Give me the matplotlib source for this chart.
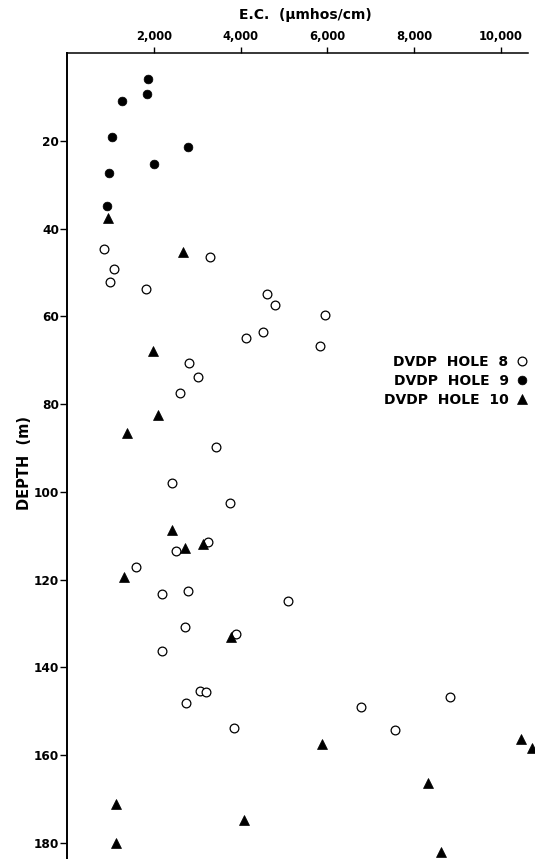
import matplotlib
matplotlib.use("Agg")
import matplotlib.pyplot as plt

# ---- data (E.C. in umhos/cm, depth in m) ----
hole8_ec = [840, 3300, 1071, 986, 1823, 4616, 4800, 5954, 4509, 4117, 5839,
            2802, 3009, 2601, 3425, 2416, 3748, 3247, 2516, 1586, 2178, 2793,
            5086, 2723, 3900, 2186, 3063, 3201, 2740, 3840, 6771, 7556, 8825]
hole8_depth = [44.6, 46.4, 49.3, 52.3, 53.9, 54.9, 57.4, 59.7, 63.5, 65.0, 66.7,
               70.7, 73.9, 77.6, 89.8, 97.9, 102.6, 111.4, 113.5, 117.2, 123.3, 122.7,
               124.8, 130.8, 132.5, 136.3, 145.3, 145.6, 148.2, 153.8, 149.1, 154.3, 146.8]

hole9_ec = [1855, 1840, 1255, 1039, 2793, 2008, 962, 916]
hole9_depth = [5.9, 9.3, 10.95, 19.2, 21.4, 25.2, 27.3, 34.9]

hole10_ec = [932, 2663, 1971, 2086, 1378, 2416, 3125, 2723, 1309, 3771,
             5871, 10478, 10717, 8324, 1131, 4071, 1124, 8624]
hole10_depth = [37.5, 45.3, 67.9, 82.6, 86.7, 108.7, 111.9, 112.8, 119.4, 133.1,
                157.4, 156.4, 158.5, 166.3, 171.2, 174.7, 180.0, 182.2]

x_ticks = [2000, 4000, 6000, 8000, 10000]
x_tick_labels = ["2,000", "4,000", "6,000", "8,000", "10,000"]
y_ticks = [20, 40, 60, 80, 100, 120, 140, 160, 180]
y_tick_labels = [str(v) for v in y_ticks]

labels = ["DVDP  HOLE  8", "DVDP  HOLE  9", "DVDP  HOLE  10"]

# ---- figure ----
plt.rcParams['font.family'] = ['DejaVu Sans']
W, H = 535, 859
fig = plt.figure(figsize=(W / 100, H / 100), dpi=100)
left_px, right_px, top_px = 67.3, 528, 53
ax_w_px, ax_h_px = right_px - left_px, H - top_px
ax = fig.add_axes([left_px / W, 0, ax_w_px / W, ax_h_px / H])

ax.set_xlim(0, 10630)
ax.set_ylim(183.7, 0)

ms_c = 6.3
h8, = ax.plot(hole8_ec, hole8_depth, 'o', mfc='white', mec='black', mew=0.9,
              ms=ms_c, ls='none', clip_on=False, label=labels[0])
h9, = ax.plot(hole9_ec, hole9_depth, 'o', mfc='black', mec='black', mew=0.5,
              ms=ms_c, ls='none', clip_on=False, label=labels[1])
h10, = ax.plot(hole10_ec, hole10_depth, '^', mfc='black', mec='black', mew=0.5,
               ms=7.2, ls='none', clip_on=False, label=labels[2])

for s in ['right', 'bottom']:
    ax.spines[s].set_visible(False)
ax.spines['left'].set_linewidth(1.4)
ax.spines['top'].set_linewidth(1.1)

ax.xaxis.set_ticks_position('top')
ax.xaxis.set_label_position('top')
ax.set_xticks(x_ticks)
ax.set_xticklabels(x_tick_labels, fontsize=8.3, fontweight='bold')
ax.set_yticks(y_ticks)
ax.set_yticklabels(y_tick_labels, fontsize=8.7, fontweight='bold')
ax.tick_params(axis='x', direction='out', length=4, width=1.0, pad=3)
ax.tick_params(axis='y', direction='out', length=5, width=1.0, pad=1)

ax.set_xlabel("E.C.  (\u03bcmhos/cm)", fontsize=10, fontweight='bold')
ax.set_ylabel("DEPTH  (m)", fontsize=10.5, fontweight='bold')
ax.xaxis.label.set_va('center')
ax.yaxis.label.set_va('center')
ax.xaxis.set_label_coords((305 - left_px) / ax_w_px, 1 + (top_px - 15) / ax_h_px)
ax.yaxis.set_label_coords(-(left_px - 25) / ax_w_px, 1 - (463 - top_px) / ax_h_px)

leg = ax.legend(handles=[h8, h9, h10], labels=labels, frameon=False,
                markerfirst=False, loc='upper right',
                bbox_to_anchor=(528 / W, 1 - 355 / H), bbox_transform=fig.transFigure,
                prop={'weight': 'bold', 'size': 10}, handlelength=0.8,
                handletextpad=0.6, labelspacing=0.35, borderpad=0,
                borderaxespad=0)
for t in leg.get_texts():
    t.set_ha('right')

fig.savefig("out.png", dpi=100, facecolor='white')
